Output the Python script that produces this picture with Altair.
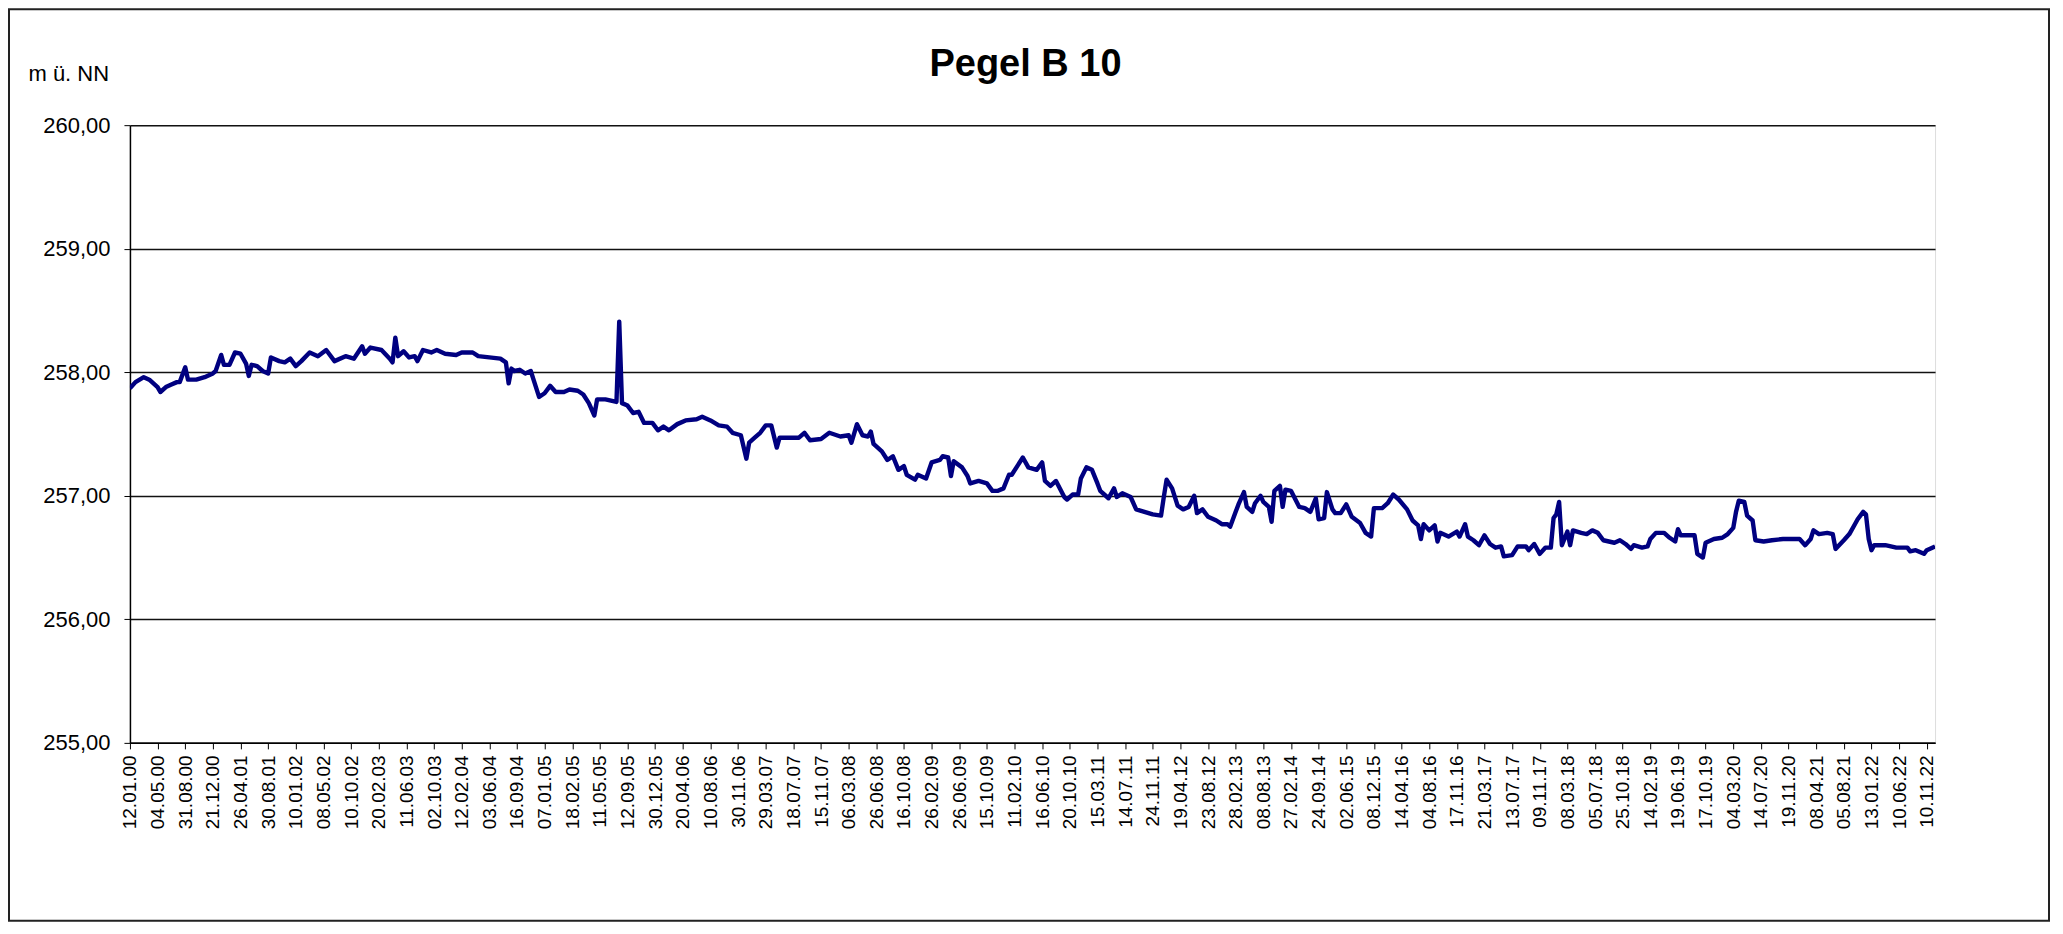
import altair as alt
import pandas as pd

# measurement index (category position; a date label every 10 measurements) and level in m ü. NN
idx_a = [0,2,5,7,10,11,13,15,17,18,20,21,24,27,30,31,33,34,36,38,40,42,43,44,46,48,50,51,54,56,
         58,60,62,65,68,71,74,78,81,84,85,87,91,94,95,96,97,99,101,103,104,106,109,111,114,118,120,124,126,130]
lvl_a = [257.87,257.92,257.96,257.94,257.88,257.84,257.88,257.90,257.92,257.92,258.04,257.94,257.94,257.96,257.99,
         258.01,258.14,258.06,258.06,258.16,258.15,258.07,257.97,258.06,258.05,258.01,257.99,258.12,258.09,258.08,
         258.11,258.05,258.09,258.16,258.13,258.18,258.09,258.13,258.11,258.21,258.15,258.20,258.18,258.11,258.08,
         258.28,258.13,258.17,258.12,258.13,258.09,258.18,258.16,258.18,258.15,258.14,258.16,258.16,258.13,258.12]

idx_b = [134,136,137,138,139,141,143,145,146,148,150,152,154,157,159,162,164,166,168,169,
         172,174,176,177,178,180,182,184,186,189,191,193,195,198,201,205,207,210,213,216,
         218,221,223,224,226,228,230,232,234,235,239,242,244,246,250,253,257,260,261,263]
lvl_b = [258.11,258.08,257.91,258.03,258.01,258.02,257.99,258.01,257.94,257.80,
         257.83,257.89,257.84,257.84,257.86,257.85,257.82,257.75,257.65,257.78,
         257.78,257.77,257.76,258.41,257.75,257.73,257.67,257.68,257.59,257.59,
         257.53,257.56,257.53,257.58,257.61,257.62,257.64,257.61,257.57,257.56,
         257.51,257.49,257.30,257.43,257.47,257.51,257.57,257.57,257.39,257.47,
         257.47,257.47,257.51,257.45,257.46,257.51,257.48,257.49,257.43,257.58]

idx_c = [265,267,268,269,272,274,276,278,280,281,284,285,288,290,293,294,296,297,298,301,
         303,304,307,310,312,314,316,318,319,321,323,325,328,330,331,333,335,338,339,341,
         343,344,346,348,350,351,354,356,357,359,362,364,367,370,373,374,375,377,379,381,
         383,385,386,388,390,393,395]
lvl_c = [257.49,257.48,257.52,257.42,257.36,257.29,257.32,257.21,257.24,257.17,
         257.13,257.17,257.14,257.27,257.29,257.32,257.31,257.16,257.28,257.23,
         257.16,257.10,257.12,257.10,257.04,257.04,257.06,257.17,257.17,257.24,
         257.31,257.23,257.21,257.27,257.12,257.08,257.12,256.99,256.97,257.01,
         257.01,257.14,257.23,257.21,257.10,257.04,256.98,257.06,256.99,257.02,
         256.99,256.89,256.87,256.85,256.84,256.99,257.13,257.06,256.92,256.89,
         256.91,257.00,256.86,256.89,256.83,256.80,256.77]

idx_d = [397,398,400,401,403,404,406,407,409,410,412,413,414,416,417,418,420,423,425,427,
         429,430,432,433,435,436,438,440,442,445,447,449,450,453,455,457,459,462,464,466,
         467,468,470,472,473,474,477,480,481,483,484,486,488,490,492,494,496,497,500,502,
         505,506,508,510,512,514,515,516,517,518,520,521,522,525]
lvl_d = [256.77,256.75,256.87,256.93,257.03,256.91,256.87,256.94,257.00,256.95,
         256.91,256.79,257.04,257.08,256.91,257.05,257.04,256.91,256.90,256.87,
         256.98,256.81,256.82,257.03,256.89,256.86,256.86,256.93,256.83,256.78,
         256.70,256.67,256.90,256.90,256.94,257.01,256.97,256.89,256.80,256.76,
         256.65,256.77,256.72,256.76,256.63,256.70,256.67,256.71,256.67,256.77,
         256.67,256.64,256.60,256.68,256.61,256.58,256.59,256.51,256.52,256.59,
         256.59,256.56,256.61,256.53,256.58,256.58,256.82,256.85,256.95,256.60,
         256.71,256.60,256.72,256.70]

idx_e = [527,529,531,533,537,539,541,543,544,547,549,550,552,555,557,559,560,561,564,566,
         567,569,570,573,576,578,580,581,582,584,585,587,588,591,594,598,602,604,606,608,
         609,611,614,616,617,620,622,624,625,627,628,629,630,631,635,639,643,644,646,649,
         650,652,653]
lvl_e = [256.69,256.72,256.70,256.64,256.62,256.64,256.61,256.57,256.60,256.58,
         256.59,256.65,256.70,256.70,256.66,256.63,256.73,256.68,256.68,256.68,
         256.53,256.50,256.62,256.65,256.66,256.69,256.74,256.87,256.96,256.95,
         256.84,256.80,256.64,256.63,256.64,256.65,256.65,256.65,256.60,256.65,
         256.72,256.69,256.70,256.69,256.57,256.64,256.69,256.77,256.81,256.87,
         256.85,256.65,256.56,256.60,256.60,256.58,256.58,256.55,256.56,256.53,
         256.56,256.58,256.59]

date_labels = ["12.01.00","04.05.00","31.08.00","21.12.00","26.04.01","30.08.01","10.01.02","08.05.02",
               "10.10.02","20.02.03","11.06.03","02.10.03","12.02.04","03.06.04","16.09.04","07.01.05",
               "18.02.05","11.05.05","12.09.05","30.12.05","20.04.06","10.08.06","30.11.06","29.03.07",
               "18.07.07","15.11.07","06.03.08","26.06.08","16.10.08","26.02.09","26.06.09","15.10.09",
               "11.02.10","16.06.10","20.10.10","15.03.11","14.07.11","24.11.11","19.04.12","23.08.12",
               "28.02.13","08.08.13","27.02.14","24.09.14","02.06.15","08.12.15","14.04.16","04.08.16",
               "17.11.16","21.03.17","13.07.17","09.11.17","08.03.18","05.07.18","25.10.18","14.02.19",
               "19.06.19","17.10.19","04.03.20","14.07.20","19.11.20","08.04.21","05.08.21","13.01.22",
               "10.06.22","10.11.22"]
label_step = 10
y_ticks = [255, 256, 257, 258, 259, 260]
chart_title = "Pegel B 10"
y_title = "m ü. NN"

idx_all, lvl_all = [], []
for a, b in [(idx_a, lvl_a), (idx_b, lvl_b), (idx_c, lvl_c), (idx_d, lvl_d), (idx_e, lvl_e)]:
    n = min(len(a), len(b))
    idx_all += a[:n]
    lvl_all += b[:n]
df = pd.DataFrame({"idx": idx_all, "level": lvl_all})

label_positions = [i * label_step for i in range(len(date_labels))]
label_js = "[" + ",".join("'%s'" % s for s in date_labels) + "]"
FONT = "Liberation Sans"

line = alt.Chart(df).mark_line(color="#000080", strokeWidth=4.4, clip=True,
                               strokeJoin="round").encode(
    x=alt.X("idx:Q",
            scale=alt.Scale(domain=[0, max(idx_all)], nice=False, zero=False),
            axis=alt.Axis(values=label_positions,
                          labelExpr=label_js + "[round(datum.value/%d)]" % label_step,
                          labelAngle=270, labelAlign="right", labelBaseline="middle",
                          labelFont=FONT, labelFontSize=19, labelColor="#000",
                          labelPadding=6, labelOverlap=False, labelFlush=False, labelBound=False,
                          tickSize=6, tickColor="#000", domainColor="#000", domainWidth=1.5,
                          grid=False, title=None)),
    y=alt.Y("level:Q",
            scale=alt.Scale(domain=[255, 260], nice=False, zero=False),
            axis=alt.Axis(values=y_ticks,
                          labelExpr="replace(format(datum.value, '.2f'), '.', ',')",
                          labelFont=FONT, labelFontSize=22, labelColor="#000", labelPadding=14,
                          tickSize=6, tickColor="#000", domainColor="#000", domainWidth=1.5,
                          grid=True, gridColor="#111", gridWidth=1.5,
                          title=y_title, titleAngle=0, titleX=-102, titleY=-52,
                          titleAlign="left", titleBaseline="middle",
                          titleFont=FONT, titleFontSize=22, titleFontWeight="normal",
                          titleColor="#000")),
)

one = pd.DataFrame({"k": [0]})

frame = alt.Chart(one).mark_rect(
    filled=False, stroke="#222", strokeWidth=2
).encode(
    x=alt.value(-121), x2=alt.value(1920), y=alt.value(-116), y2=alt.value(796)
)

title = alt.Chart(one).mark_text(
    text=chart_title, font=FONT, fontSize=38, fontWeight="bold", color="#000",
    align="center", baseline="alphabetic"
).encode(x=alt.value(896), y=alt.value(-49))

chart = alt.layer(line, frame, title).properties(
    width=1806, height=618,
    padding={"left": 122, "top": 117, "right": 120, "bottom": 180},
    autosize=alt.AutoSizeParams(type="none"),
).configure_view(stroke="#000", strokeWidth=1.5).configure(background="white")

chart.save("out.html", embed_options={"renderer": "svg", "actions": False})
